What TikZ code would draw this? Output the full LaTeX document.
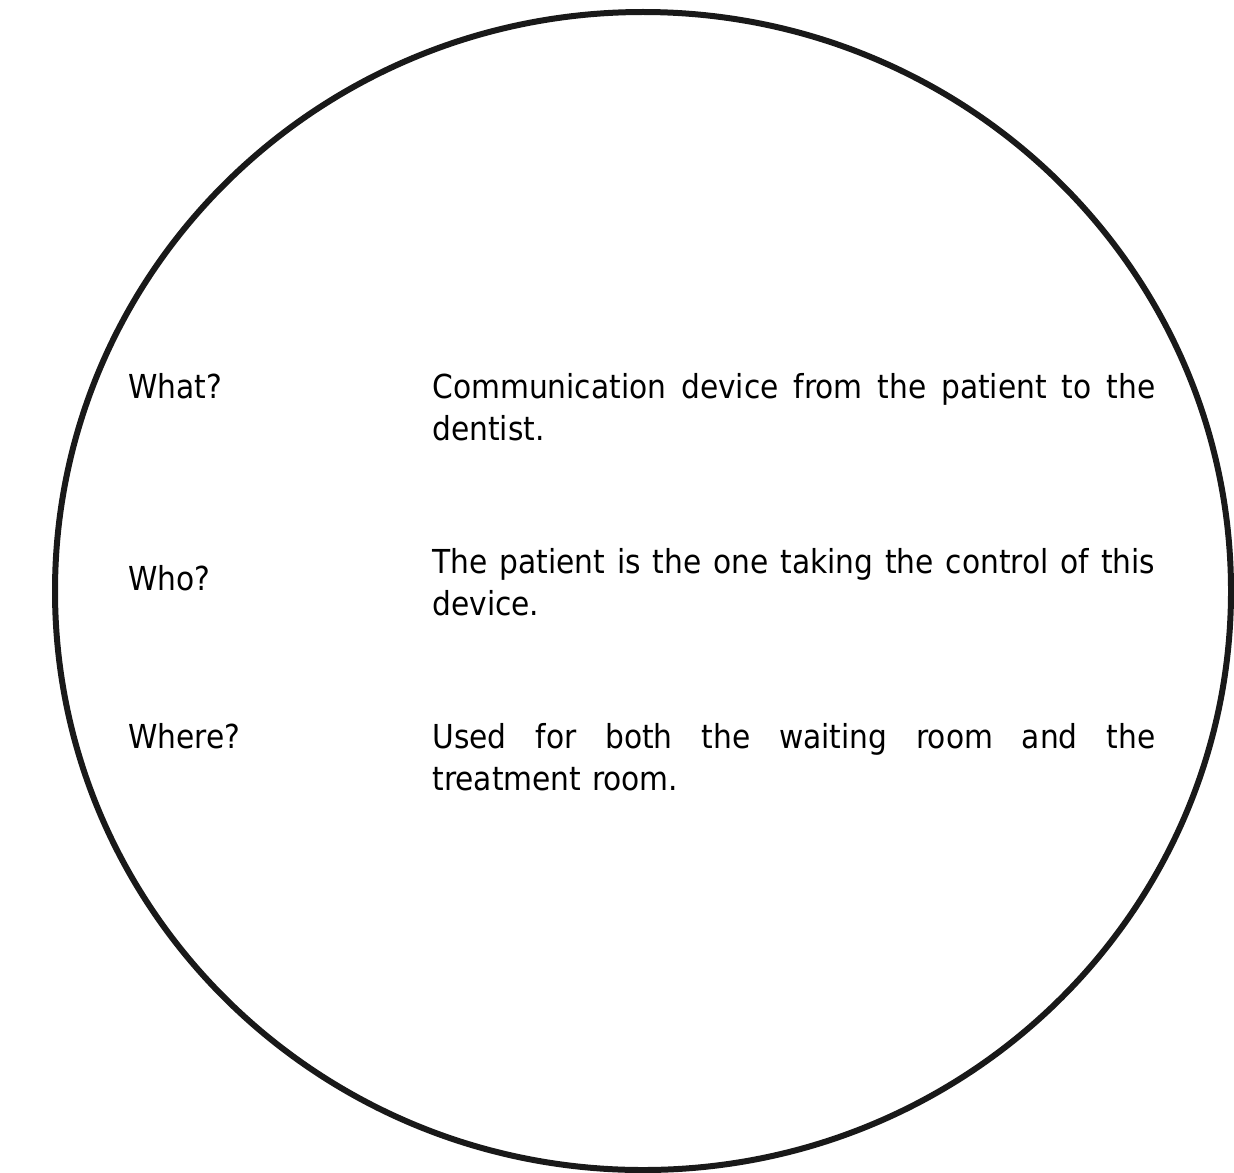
\documentclass[tikz,border=0pt]{standalone}
\usepackage{fontspec}
\setmainfont{DejaVu Sans Condensed}[WordSpace=1.15]
\usetikzlibrary{positioning}
\hyphenpenalty=10000
\exhyphenpenalty=10000

\begin{document}
\begin{tikzpicture}[x=0.5pt,y=-0.5pt,
outline/.style ={draw=black!90,line width=3pt},
question/.style ={anchor=base west,inner sep=0pt,
  font=\fontsize{16.5}{21}\selectfont},
answer/.style ={anchor=base west,inner sep=0pt,text width=361.5pt,
  align=justify,font=\fontsize{16.5}{21}\selectfont}]
\useasboundingbox (0,0) rectangle (1234,1172);
\clip (0,0) rectangle (1234,1172);
\coordinate (C) at (643,591);
\draw[outline] (C) ellipse [x radius=588,y radius=579];
% questions
\node[question] (what) at (128,398) {What?};
\node[question] (who) at (128,590) {Who?};
\node[question] (where) at (128,748) {Where?};
% answers
\node[answer] (whatA) at (432,398)
{Communication device from the patient to the dentist.};
\node[answer] (whoA) at (432,573)
{The patient is the one taking the control of this device.};
\node[answer] (whereA) at (432,748)
{Used for both the waiting room and the treatment room.};
\end{tikzpicture}
\end{document}
